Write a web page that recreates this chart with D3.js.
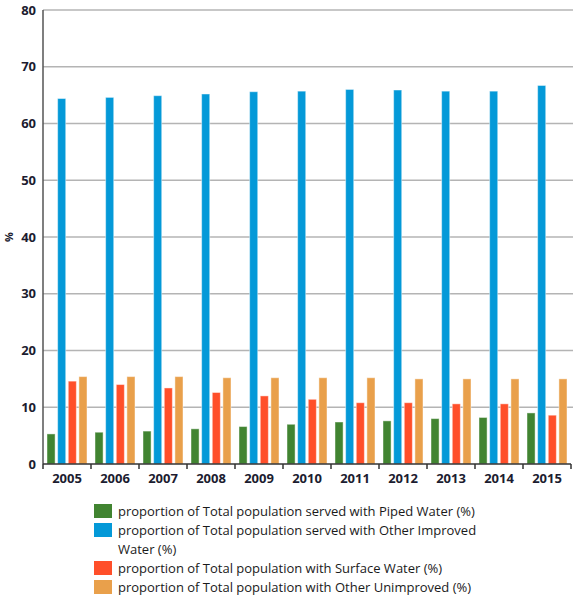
<!DOCTYPE html>
<html>
<head>
<meta charset="utf-8">
<script src="https://cdn.jsdelivr.net/npm/d3@7"></script>
<style>
  body { margin: 0; background: #fff; }
  svg { display: block; font-family: "Open Sans", sans-serif; }
</style>
</head>
<body>
<svg id="chart"></svg>
<script>
// chart data
const years = ["2005", "2006", "2007", "2008", "2009", "2010", "2011", "2012", "2013", "2014", "2015"];
const pipedWater = [5.3, 5.6, 5.8, 6.2, 6.6, 7.0, 7.4, 7.6, 8.0, 8.2, 9.0];
const otherImproved = [64.4, 64.6, 64.9, 65.2, 65.6, 65.7, 66.0, 65.9, 65.7, 65.7, 66.7];
const surfaceWater = [14.6, 14.0, 13.4, 12.6, 12.0, 11.4, 10.8, 10.8, 10.6, 10.6, 8.6];
const otherUnimproved = [15.4, 15.4, 15.4, 15.2, 15.2, 15.2, 15.2, 15.0, 15.0, 15.0, 15.0];
const seriesNames = [
  "proportion of Total population served with Piped Water (%)",
  "proportion of Total population served with Other Improved Water (%)",
  "proportion of Total population with Surface Water (%)",
  "proportion of Total population with Other Unimproved (%)"
];
const yTicks = [0, 10, 20, 30, 40, 50, 60, 70, 80];

const colors = ["#418431", "#0499d8", "#ff4f2a", "#e9a04b"];
const seriesValues = [pipedWater, otherImproved, surfaceWater, otherUnimproved];

const width = 573, height = 599;
const margin = { top: 10, right: 2, bottom: 135, left: 43 };

const svg = d3.select("#chart")
    .attr("width", width)
    .attr("height", height);

const x = d3.scaleBand()
    .domain(years)
    .range([margin.left, width - margin.right]);

const xInner = d3.scaleBand()
    .domain(d3.range(seriesNames.length))
    .range([4, x.bandwidth() - 4])
    .paddingInner(0.24);

const y = d3.scaleLinear()
    .domain([0, 80])
    .range([height - margin.bottom, margin.top]);

// gridlines
svg.append("g")
    .selectAll("line")
    .data(yTicks.filter(d => d > 0))
    .join("line")
    .attr("x1", margin.left)
    .attr("x2", width)
    .attr("y1", d => y(d))
    .attr("y2", d => y(d))
    .attr("stroke", "#b4b4b4")
    .attr("stroke-width", 1.6);

// y tick labels
svg.append("g")
    .selectAll("text")
    .data(yTicks)
    .join("text")
    .attr("x", 36)
    .attr("y", d => y(d))
    .attr("dy", "0.35em")
    .attr("text-anchor", "end")
    .attr("font-size", 13)
    .attr("font-weight", "bold")
    .attr("fill", "#1c1c30")
    .text(d => d);

// y label
svg.append("text")
    .attr("transform", `translate(13,${y(40)}) rotate(-90)`)
    .attr("text-anchor", "middle")
    .attr("font-size", 11)
    .attr("font-weight", "bold")
    .attr("fill", "#1c1c30")
    .text("%");

// bars
const groups = svg.append("g")
    .selectAll("g")
    .data(years)
    .join("g")
    .attr("transform", d => `translate(${x(d)},0)`);

groups.selectAll("rect")
    .data((d, i) => seriesValues.map((vals, s) => ({ s: s, v: vals[i] })))
    .join("rect")
    .attr("x", d => xInner(d.s))
    .attr("width", xInner.bandwidth())
    .attr("y", d => y(d.v))
    .attr("height", d => y(0) - y(d.v))
    .attr("fill", d => colors[d.s])
    .attr("stroke", "#ffffff")
    .attr("stroke-opacity", 0.45)
    .attr("stroke-width", 1);

// y axis line
svg.append("line")
    .attr("x1", margin.left).attr("x2", margin.left)
    .attr("y1", y(80)).attr("y2", y(0))
    .attr("stroke", "#555")
    .attr("stroke-width", 1.5);

// x axis
const xAxis = svg.append("g")
    .attr("transform", `translate(0,${y(0)})`);

xAxis.append("line")
    .attr("x1", margin.left).attr("x2", width - margin.right)
    .attr("stroke", "#333")
    .attr("stroke-width", 1.5);

xAxis.selectAll(".tick")
    .data(years.concat(["end"]))
    .join("line")
    .attr("class", "tick")
    .attr("x1", d => d === "end" ? x.range()[1] : x(d))
    .attr("x2", d => d === "end" ? x.range()[1] : x(d))
    .attr("y1", 0)
    .attr("y2", 5)
    .attr("stroke", "#333")
    .attr("stroke-width", 1.5);

xAxis.selectAll(".lbl")
    .data(years)
    .join("text")
    .attr("class", "lbl")
    .attr("x", d => x(d) + x.bandwidth() / 2)
    .attr("y", 19)
    .attr("text-anchor", "middle")
    .attr("font-size", 13)
    .attr("font-weight", "bold")
    .attr("fill", "#1c1c30")
    .text(d => d);

// legend
const legendRows = [
  { s: 0, lines: [seriesNames[0]] },
  { s: 1, lines: ["proportion of Total population served with Other Improved", "Water (%)"] },
  { s: 2, lines: [seriesNames[2]] },
  { s: 3, lines: [seriesNames[3]] }
];
const legend = svg.append("g");
let rowY = 504;
legendRows.forEach(row => {
  legend.append("rect")
      .attr("x", 94)
      .attr("y", rowY)
      .attr("width", 18)
      .attr("height", 14)
      .attr("fill", colors[row.s]);
  row.lines.forEach((line, k) => {
    legend.append("text")
        .attr("x", 118)
        .attr("y", rowY + 12 + k * 19)
        .attr("font-size", 13)
        .attr("fill", "#1a1a1a")
        .text(line);
  });
  rowY += 19 * row.lines.length;
});
</script>
</body>
</html>
